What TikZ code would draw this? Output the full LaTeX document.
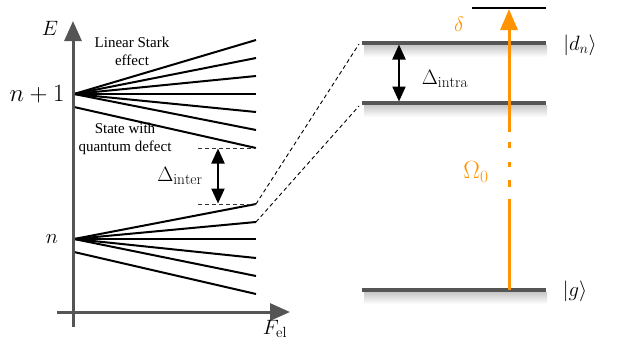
\documentclass[tikz,border=0pt]{standalone}
\usepackage{fontspec}
\newfontfamily\tnr{Liberation Serif}
\usetikzlibrary{arrows.meta}
\definecolor{axgray}{RGB}{85,85,85}
\definecolor{orng}{RGB}{255,148,0}
\begin{document}
\begin{tikzpicture}[x=1pt,y=-1pt,
  axisarrow/.style={draw=axgray, line width=3pt, -{Triangle[length=20pt,width=17pt]}},
  fan/.style={line width=2pt, black},
  lvl/.style={draw=axgray, line width=3.5pt},
  dashc/.style={dash pattern=on 4pt off 3pt, line width=0.9pt},
  darr/.style={line width=2.2pt, {Triangle[length=15pt,width=13pt]}-{Triangle[length=15pt,width=13pt]}},
  mlab/.style={font=\fontsize{20}{24}\selectfont, inner sep=0pt},
  blab/.style={font=\fontsize{22}{26}\selectfont, inner sep=0pt},
  tlab/.style={font=\tnr\fontsize{15}{18}\selectfont, align=center, inner sep=0pt},
  lshadow/.style={top color=black!22, bottom color=white, draw=none}]
\useasboundingbox (0,0) rectangle (627,346);

% ---------- left panel: fans ----------
\coordinate (np1) at (74,94);
\coordinate (nn) at (74,239);
\foreach \y [count=\i] in {40,58,76,94,112,130}
  {\coordinate (a\i) at (256,\y); \draw[fan] (np1) -- (a\i);}
\coordinate (qa0) at (74,107);
\coordinate (qa1) at (256,148);
\draw[fan] (qa0) -- (qa1);
\foreach \y [count=\i] in {204,222,239,258,276}
  {\coordinate (b\i) at (256,\y); \draw[fan] (nn) -- (b\i);}
\coordinate (qb0) at (74,252);
\coordinate (qb1) at (256,294);
\draw[fan] (qb0) -- (qb1);

% axes
\coordinate (vbot) at (73,327);
\coordinate (vtop) at (73,21);
\coordinate (hl) at (57,312);
\coordinate (hr) at (290,312);
\draw[axisarrow] (vbot) -- (vtop);
\draw[axisarrow] (hl) -- (hr);

% Delta inter
\coordinate (d1s) at (198,148);
\coordinate (d2s) at (198,204);
\draw[dashc, black!80] (d1s) -- (qa1);
\draw[dashc, black!80] (d2s) -- (b1);
\coordinate (di1) at (218,148.5);
\coordinate (di2) at (218,203.5);
\draw[darr] (di1) -- (di2);

% labels left
\node[mlab] (lE) at (50,28) {$E$};
\node[mlab, font=\fontsize{24}{28}\selectfont] (lnp1) at (37,94) {$n+1$};
\node[mlab] (ln) at (52,239) {$n$};
\node[mlab, font=\fontsize{21}{25}\selectfont] (lF) at (275,329) {$F_{\mathrm{el}}$};
\node[tlab] (lstark) at (132,51) {Linear Stark\\effect};
\node[tlab] (lqd) at (125,138.5) {State with\\quantum defect};
\node[blab] (linter) at (180,176) {$\Delta_{\mathrm{inter}}$};

% ---------- right panel ----------
\shade[lshadow] (364,45) rectangle (547,57);
\shade[lshadow] (364,105) rectangle (547,117);
\shade[lshadow] (364,292) rectangle (547,304);

\coordinate (L1a) at (362,43);  \coordinate (L1b) at (546,43);
\coordinate (L2a) at (362,103); \coordinate (L2b) at (546,103);
\coordinate (Lga) at (362,290); \coordinate (Lgb) at (546,290);
\draw[lvl] (L1a) -- (L1b);
\draw[lvl] (L2a) -- (L2b);
\draw[lvl] (Lga) -- (Lgb);
\coordinate (Lta) at (472,8); \coordinate (Ltb) at (546,8);
\draw[line width=1.8pt, black] (Lta) -- (Ltb);

% dashed connectors
\coordinate (c1) at (359,44);
\coordinate (c2) at (359,106);
\draw[dashc] (b1) -- (c1);
\draw[dashc] (b2) -- (c2);

% Delta intra
\coordinate (da1) at (399,44.5);
\coordinate (da2) at (399,101.5);
\draw[darr] (da1) -- (da2);
\node[blab] (lintra) at (445,79) {$\Delta_{\mathrm{intra}}$};

% orange transition
\coordinate (og) at (509,290);
\coordinate (ot) at (509,9);
\draw[orng, line width=3pt,
  dash pattern=on 91pt off 12pt on 7pt off 13pt on 5pt off 14pt on 6pt off 10pt on 300pt,
  -{Triangle[length=21pt,width=17pt]}] (og) -- (ot);
\node[mlab, text=orng] (ldelta) at (459,24) {$\delta$};
\node[mlab, text=orng, font=\fontsize{23}{27}\selectfont] (lOmega) at (476,172) {$\Omega_0$};

\node[mlab] (ldn) at (580,45) {$|d_n\rangle$};
\node[mlab] (lg) at (575,291) {$|g\rangle$};
\end{tikzpicture}
\end{document}
